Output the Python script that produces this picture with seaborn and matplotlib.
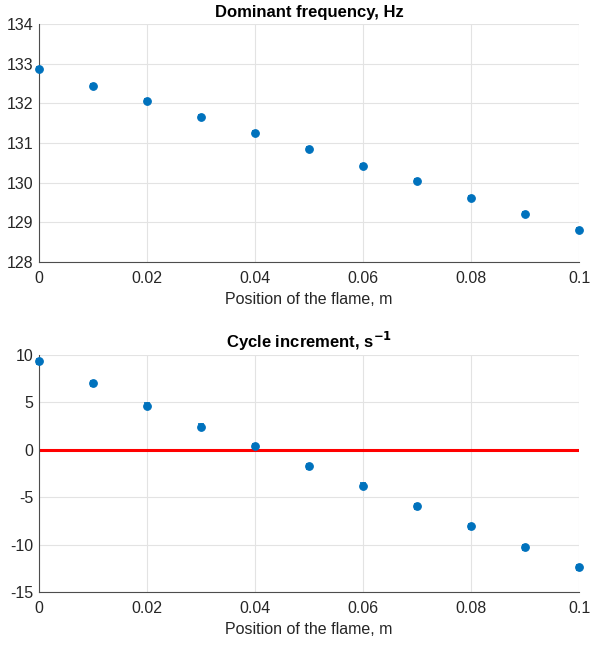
import numpy as np
import pandas as pd
import matplotlib
matplotlib.use("Agg")
import matplotlib.pyplot as plt
import seaborn as sns

# Flame position along the duct, m
position = [0.0, 0.01, 0.02, 0.03, 0.04, 0.05, 0.06, 0.07, 0.08, 0.09, 0.10]
# Dominant frequency, Hz
frequency = [132.87, 132.44, 132.05, 131.66, 131.25, 130.86, 130.43, 130.05, 129.62, 129.22, 128.81]
# Cycle increment (growth rate), 1/s
increment = [9.33, 7.0, 4.64, 2.43, 0.40, -1.76, -3.8, -5.98, -8.08, -10.29, -12.4]

freq_err = [0.05] * len(position)
inc_err = [0.25] * len(position)

xticks = [0, 0.02, 0.04, 0.06, 0.08, 0.1]
xtick_labels = ["0", "0.02", "0.04", "0.06", "0.08", "0.1"]
freq_ticks = [128, 129, 130, 131, 132, 133, 134]
inc_ticks = [-15, -10, -5, 0, 5, 10]

sns.set_theme(style="whitegrid")
plt.rcParams["font.family"] = ["Liberation Sans", "DejaVu Sans"]

blue = "#0072BD"
text_col = "#262626"
grid_col = "#e3e3e3"

fig = plt.figure(figsize=(5.9, 6.46), dpi=100)
ax1 = fig.add_axes([0.0661, 0.5944, 0.9153, 0.3684])
ax2 = fig.add_axes([0.0661, 0.0836, 0.9153, 0.3669])

df = pd.DataFrame({"x": position, "f": frequency, "g": increment})


def style_axes(ax, yticks, ylim, title):
    ax.set_xlim(0, 0.1)
    ax.set_ylim(*ylim)
    ax.set_xticks(xticks)
    ax.set_xticklabels(xtick_labels)
    ax.set_yticks(yticks)
    ax.set_yticklabels([str(t) for t in yticks])
    ax.grid(True, color=grid_col, linewidth=0.8)
    ax.set_facecolor("white")
    for side in ("top", "right"):
        ax.spines[side].set_visible(False)
    for side in ("left", "bottom"):
        ax.spines[side].set_color("#4d4d4d")
        ax.spines[side].set_linewidth(0.8)
    ax.tick_params(axis="both", direction="in", length=3, color="#4d4d4d",
                   labelsize=11.5, labelcolor=text_col)
    ax.tick_params(axis="x", pad=6.5)
    ax.tick_params(axis="y", pad=4)
    ax.set_xlabel("Position of the flame, m", fontsize=11.5, color=text_col, labelpad=4)
    ax.set_ylabel("")
    ax.set_title(title, fontsize=12, fontweight="bold", color="black", pad=5)


# Top panel: dominant frequency
ax1.errorbar(df["x"], df["f"], yerr=freq_err, fmt="none", ecolor=blue,
             elinewidth=1.2, capsize=2.5, capthick=1.2, zorder=3, clip_on=False)
sns.scatterplot(data=df, x="x", y="f", ax=ax1, color=blue, marker="o", s=30,
                edgecolor=blue, linewidth=0.8, zorder=4, clip_on=False)
style_axes(ax1, freq_ticks, (128, 134), "Dominant frequency, Hz")

# Bottom panel: cycle increment with zero reference
ax2.axhline(0, color="#FF0000", linewidth=2.2, zorder=2)
ax2.errorbar(df["x"], df["g"], yerr=inc_err, fmt="none", ecolor=blue,
             elinewidth=1.2, capsize=2.5, capthick=1.2, zorder=3, clip_on=False)
sns.scatterplot(data=df, x="x", y="g", ax=ax2, color=blue, marker="o", s=30,
                edgecolor=blue, linewidth=0.8, zorder=4, clip_on=False)
style_axes(ax2, inc_ticks, (-15, 10), r"Cycle increment, s$^{\mathbf{-1}}$")

fig.savefig("out.png", dpi=100, facecolor="white")
